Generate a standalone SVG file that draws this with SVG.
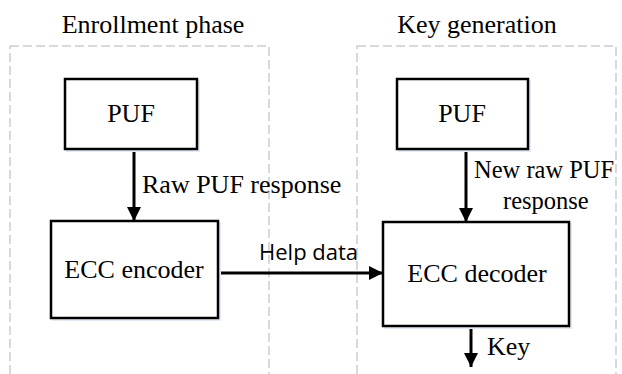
<svg xmlns="http://www.w3.org/2000/svg" width="622" height="374" viewBox="0 0 622 374">
<style>
  .phase{fill:none;stroke:#c9cdd2;stroke-width:1.5;stroke-dasharray:9 4}
  .box{fill:#fff;stroke:#000;stroke-width:2.5}
  .shadow{fill:none;stroke:#e4ebf4;stroke-width:2}
  .t{font-family:"Liberation Serif","Times New Roman",serif;font-size:26px;fill:#000}
  .n{font-size:24.5px}
  .s{font-family:"Open Sans","Liberation Sans",sans-serif;font-size:22px;fill:#000}
  .c{text-anchor:middle}
  .wire{stroke:#000;stroke-width:3;fill:none}
</style>
<defs>
  <marker id="ah" markerUnits="userSpaceOnUse" markerWidth="14" markerHeight="14" viewBox="0 0 12 12" refX="12" refY="6" orient="auto">
    <path d="M0,0 L12,6 L0,12 Z" fill="#000"/>
  </marker>
</defs>
<rect width="622" height="374" fill="#fff"/>
<g id="enrollment-phase">
  <rect class="phase" x="10" y="46" width="259" height="360"/>
  <text class="t c" x="153" y="33">Enrollment phase</text>
</g>
<g id="key-generation-phase">
  <rect class="phase" x="357" y="46" width="259" height="360"/>
  <text class="t c" x="477" y="33">Key generation</text>
</g>
<g id="connectors">
  <line class="wire" x1="134" y1="149" x2="134" y2="221" marker-end="url(#ah)"/>
  <text class="t" x="142" y="193">Raw PUF response</text>
  <line class="wire" x1="466" y1="149" x2="466" y2="222" marker-end="url(#ah)"/>
  <text class="t n" x="474" y="178">New raw PUF</text>
  <text class="t n" x="503" y="209">response</text>
  <line class="wire" x1="218" y1="273" x2="383" y2="273" stroke-width="3.5" marker-end="url(#ah)"/>
  <text class="s" x="259" y="260">Help data</text>
  <line class="wire" x1="471" y1="326" x2="471" y2="367" marker-end="url(#ah)"/>
  <text class="t" x="487" y="355">Key</text>
</g>
<g id="puf-enroll">
  <rect class="shadow" x="67" y="81" width="132" height="70"/>
  <rect class="box" x="65" y="79" width="132" height="70"/>
  <text class="t c" x="131" y="122">PUF</text>
</g>
<g id="ecc-encoder">
  <rect class="shadow" x="53" y="223" width="167" height="97"/>
  <rect class="box" x="51" y="221" width="167" height="97"/>
  <text class="t c" x="134" y="278">ECC encoder</text>
</g>
<g id="puf-keygen">
  <rect class="shadow" x="399" y="81" width="131" height="70"/>
  <rect class="box" x="397" y="79" width="131" height="70"/>
  <text class="t c" x="462" y="122">PUF</text>
</g>
<g id="ecc-decoder">
  <rect class="shadow" x="385" y="224" width="186" height="104"/>
  <rect class="box" x="383" y="222" width="186" height="104"/>
  <text class="t c" x="477" y="282">ECC decoder</text>
</g>
</svg>
